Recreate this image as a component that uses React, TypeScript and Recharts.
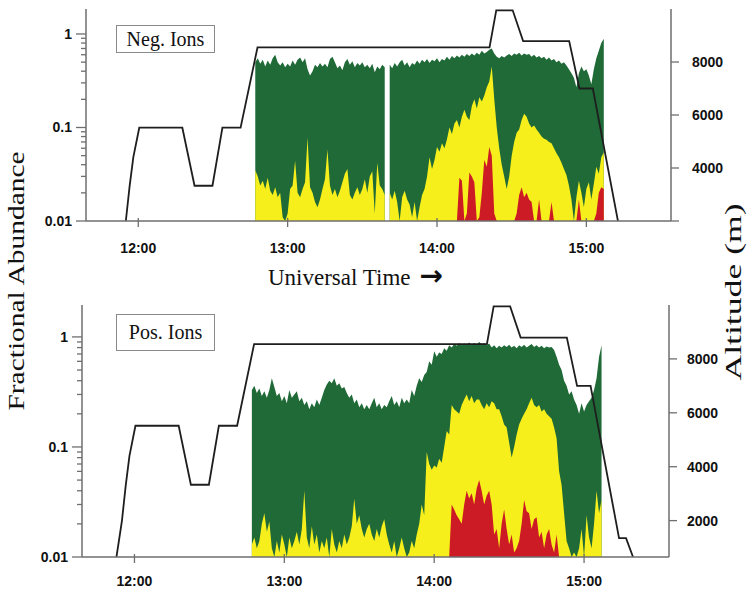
import React from "react";
import { ComposedChart, Area, Line, XAxis, YAxis } from "recharts";

// ion records start at 12:47 UT, one value per minute
const SERIES_START = 767;

// negative ions: total (green), middle class (yellow), heaviest class (red)
const negGreen = [
  0.5, 0.55, 0.48, 0.53, 0.45, 0.52, 0.47, 0.55, 0.6, 0.5,
  0.46, 0.5, 0.44, 0.48, 0.45, 0.52, 0.47, 0.53, 0.56, 0.5,
  0.55, 0.42, 0.36, 0.4, 0.47, 0.44, 0.49, 0.45, 0.48, 0.44,
  0.54, 0.57, 0.5, 0.43, 0.46, 0.41, 0.5, 0.54, 0.47, 0.51,
  0.44, 0.49, 0.46, 0.5, 0.44, 0.47, 0.43, 0.48, 0.39, 0.45,
  0.42, 0.47, 0.44, null, 0.47, 0.43, 0.49, 0.45, 0.5, 0.53,
  0.46, 0.5, 0.44, 0.49, 0.47, 0.52, 0.48, 0.53, 0.5, 0.54,
  0.49, 0.53, 0.51, 0.55, 0.5, 0.54, 0.52, 0.57, 0.53, 0.58,
  0.55, 0.59, 0.56, 0.6, 0.57, 0.61, 0.58, 0.62, 0.59, 0.63,
  0.6, 0.66, 0.62, 0.64, 0.68, 0.7, 0.62, 0.57, 0.55, 0.58,
  0.56, 0.59, 0.61, 0.58, 0.62, 0.6, 0.63, 0.59, 0.62, 0.6,
  0.61, 0.57, 0.6, 0.56, 0.58, 0.55, 0.57, 0.53, 0.56, 0.52,
  0.54, 0.5, 0.52, 0.48, 0.5, 0.46, 0.42, 0.38, 0.34, 0.27,
  0.38, 0.45, 0.4, 0.42, 0.36, 0.29, 0.42, 0.55, 0.66, 0.8,
  0.89,
];

const negYellow = [
  0.035, 0.03, 0.024, 0.027, 0.022, 0.029, 0.021, 0.019, 0.023, 0.018,
  0.02, 0.011, 0.01, 0.012, 0.022, 0.024, 0.044, 0.02, 0.018, 0.022,
  0.026, 0.078, 0.023, 0.02, 0.016, 0.014, 0.017, 0.022, 0.028, 0.058,
  0.024, 0.019, 0.022, 0.018, 0.021, 0.026, 0.032, 0.036, 0.019, 0.017,
  0.02, 0.023, 0.019, 0.022, 0.028, 0.02, 0.03, 0.034, 0.012, 0.042,
  0.024, 0.022, 0.019, null, 0.02, 0.017, 0.021, 0.016, 0.01, 0.018,
  0.021, 0.017, 0.015, 0.011, 0.016, 0.01, 0.014, 0.019, 0.022, 0.03,
  0.048, 0.036, 0.045, 0.062, 0.055, 0.068, 0.06, 0.075, 0.1, 0.085,
  0.11, 0.12, 0.1, 0.13, 0.155, 0.13, 0.12, 0.17, 0.2, 0.16,
  0.21, 0.19, 0.22, 0.27, 0.31, 0.45, 0.2, 0.1, 0.06, 0.04,
  0.03, 0.022, 0.03, 0.05, 0.07, 0.088, 0.095, 0.12, 0.14, 0.13,
  0.11, 0.1, 0.105, 0.095, 0.088, 0.08, 0.076, 0.074, 0.07, 0.068,
  0.06, 0.053, 0.048, 0.042, 0.036, 0.031, 0.024, 0.017, 0.01, 0.018,
  0.027, 0.02, 0.014, 0.022, 0.026, 0.017, 0.025, 0.038, 0.032, 0.048,
  0.054,
];

// red only shows up from 14:07 onwards
const NEG_RED_START = 847;
const negRed = [
  0.01, 0.01, 0.029, 0.027, 0.01, 0.012, 0.033, 0.03, 0.026, 0.01,
  0.011, 0.02, 0.045, 0.038, 0.062, 0.05, 0.012, 0.01, 0.01, 0.01,
  0.01, 0.01, 0.01, 0.01, 0.01, 0.012, 0.019, 0.023, 0.018, 0.02,
  0.017, 0.016, 0.01, 0.01, 0.017, 0.01, 0.01, 0.01, 0.01, 0.016,
  0.01, 0.01, 0.01, 0.01, 0.01, 0.01, 0.01, 0.01, 0.01, 0.01,
  0.017, 0.01, 0.01, 0.01, 0.01, 0.01, 0.01, 0.012, 0.02, 0.023,
  0.022,
];

// positive ions
const posGreen = [
  0.33, 0.36, 0.31, 0.34, 0.29, 0.32, 0.28, 0.33, 0.42, 0.35,
  0.29, 0.31, 0.26, 0.29, 0.25, 0.33, 0.28, 0.3, 0.32, 0.26,
  0.28, 0.24, 0.26, 0.22, 0.25, 0.23, 0.27, 0.24, 0.28, 0.33,
  0.37, 0.4, 0.38, 0.42, 0.36, 0.38, 0.34, 0.35, 0.31, 0.28,
  0.3, 0.25, 0.27, 0.23, 0.25, 0.22, 0.24, 0.22, 0.25, 0.28,
  0.23, 0.25, 0.22, 0.24, 0.23, 0.26, 0.29, 0.24, 0.26, 0.23,
  0.28, 0.25, 0.27, 0.25, 0.33, 0.29, 0.36, 0.42, 0.39, 0.45,
  0.48, 0.6, 0.56, 0.74, 0.66, 0.72, 0.7, 0.79, 0.75, 0.84,
  0.8, 0.86, 0.83, 0.88, 0.84, 0.87, 0.85, 0.89, 0.84, 0.88,
  0.85, 0.9, 0.86, 0.88, 0.84, 0.87, 0.8, 0.84, 0.79, 0.83,
  0.8, 0.84, 0.81, 0.85, 0.8, 0.83, 0.79, 0.84, 0.81, 0.85,
  0.8, 0.83, 0.86, 0.81, 0.84, 0.8, 0.83, 0.79, 0.82, 0.8,
  0.81, 0.76, 0.66, 0.56, 0.5, 0.4, 0.36, 0.3, 0.32, 0.27,
  0.24, 0.2, 0.25, 0.21, 0.24, 0.26, 0.28, 0.33, 0.42, 0.66,
  0.84,
];

const posYellow = [
  0.013, 0.015, 0.012, 0.014, 0.02, 0.025, 0.017, 0.021, 0.012, 0.01,
  0.014, 0.011, 0.016, 0.013, 0.01, 0.015, 0.012, 0.014, 0.017, 0.013,
  0.018, 0.04, 0.015, 0.012, 0.019, 0.013, 0.016, 0.011, 0.014, 0.012,
  0.015, 0.01, 0.018, 0.013, 0.011, 0.014, 0.012, 0.016, 0.013, 0.015,
  0.019, 0.034, 0.02, 0.024, 0.018, 0.015, 0.018, 0.02, 0.016, 0.014,
  0.018, 0.015, 0.019, 0.022, 0.016, 0.013, 0.011, 0.014, 0.01, 0.012,
  0.015, 0.012, 0.01, 0.011, 0.014, 0.012, 0.016, 0.02, 0.03, 0.024,
  0.09, 0.07, 0.062, 0.068, 0.065, 0.078, 0.072, 0.1, 0.14, 0.13,
  0.24, 0.22, 0.21, 0.2, 0.24, 0.27, 0.3, 0.26, 0.29, 0.25,
  0.27, 0.27, 0.24, 0.22, 0.25, 0.23, 0.26, 0.25, 0.22, 0.22,
  0.19, 0.16, 0.15, 0.11, 0.08, 0.1, 0.13, 0.16, 0.18, 0.2,
  0.22, 0.25, 0.28, 0.24, 0.23, 0.24, 0.21, 0.22, 0.2, 0.19,
  0.18, 0.15, 0.12, 0.06, 0.045, 0.025, 0.014, 0.012, 0.01, 0.011,
  0.01, 0.012, 0.018, 0.01, 0.024, 0.015, 0.012, 0.02, 0.04, 0.025,
  0.033,
];

const POS_RED_START = 846;
const posRed = [
  0.01, 0.03, 0.027, 0.024, 0.022, 0.02, 0.03, 0.04, 0.034, 0.038,
  0.03, 0.042, 0.05, 0.04, 0.03, 0.036, 0.04, 0.03, 0.016, 0.018,
  0.012, 0.02, 0.027, 0.018, 0.013, 0.016, 0.011, 0.012, 0.014, 0.02,
  0.033, 0.026, 0.025, 0.018, 0.022, 0.023, 0.015, 0.017, 0.012, 0.016,
  0.018, 0.013, 0.011, 0.016, 0.01,
];

// aircraft altitude profile (minutes UT, metres)
const altTimes = [
  712.8, 715, 716.5, 718, 720.4, 737.7, 742.6, 749.8, 753.8, 761.1, 767.9,
  861.1, 863.8, 870.4, 874.6, 893.1, 897.2, 902.6, 914, 916.8, 919.6,
];
const altMetres = [
  650, 2000, 3300, 4400, 5520, 5520, 3330, 3330, 5520, 5520, 8550,
  8550, 9950, 9950, 8790, 8790, 7000, 7000, 1350, 1350, 650,
];

const timeTicks = [720, 780, 840, 900];
const majorFractions = [0.01, 0.1, 1];
const fractionTicks = [
  0.01, 0.02, 0.03, 0.04, 0.05, 0.06, 0.07, 0.08, 0.09,
  0.1, 0.2, 0.3, 0.4, 0.5, 0.6, 0.7, 0.8, 0.9, 1,
];
const altitudeTicks = [2000, 4000, 6000, 8000];

const GREEN = "#1f6a37";
const YELLOW = "#f7ef1c";
const RED = "#cc1b25";
const AXIS_GREY = "#6e6e6e";
const TICK_FONT = "'Liberation Sans', Arial, sans-serif";
const SERIF = "'Liberation Serif', 'Times New Roman', serif";

type Row = { t: number; green: number | null; yellow: number | null; red: number | null };

const buildRows = (
  green: (number | null)[],
  yellow: (number | null)[],
  red: number[],
  redStart: number
): Row[] =>
  green.map((g, i) => {
    const t = SERIES_START + i;
    const r = t >= redStart ? red[t - redStart] : undefined;
    return { t, green: g, yellow: yellow[i], red: r ?? null };
  });

const negRows = buildRows(negGreen, negYellow, negRed, NEG_RED_START);
const posRows = buildRows(posGreen, posYellow, posRed, POS_RED_START);
const altitudeProfile = altTimes.map((t, i) => ({ t, alt: altMetres[i] }));

const fmtTime = (m: number) =>
  `${Math.floor(m / 60)}:${String(m % 60).padStart(2, "0")}`;

const FractionTick = (props: any) => {
  const { x, y, payload } = props;
  const major = majorFractions.includes(payload.value);
  return (
    <g>
      <line x1={x - (major ? 10 : 5)} x2={x} y1={y} y2={y} stroke={AXIS_GREY} strokeWidth={1.3} />
      {major && (
        <text x={x - 14} y={y} dy={5} textAnchor="end" fontFamily={TICK_FONT}
          fontWeight="bold" fontSize={14} fill="#111">
          {String(payload.value)}
        </text>
      )}
    </g>
  );
};

const AltitudeTick = (props: any) => {
  const { x, y, payload, gap, hideBottom } = props;
  const showLabel = !(hideBottom && payload.value === 2000);
  return (
    <g>
      <line x1={x} x2={x + 8} y1={y} y2={y} stroke={AXIS_GREY} strokeWidth={1.3} />
      {showLabel && (
        <text x={x + gap} y={y} dy={5} textAnchor="start" fontFamily={TICK_FONT}
          fontWeight="bold" fontSize={14} fill="#111">
          {payload.value}
        </text>
      )}
    </g>
  );
};

const TimeTick = (props: any) => {
  const { x, y, payload, labelOffset } = props;
  return (
    <g>
      <line x1={x} x2={x} y1={y - 3} y2={y + 6} stroke={AXIS_GREY} strokeWidth={1.3} />
      <text x={x} y={y + labelOffset} textAnchor="middle" fontFamily={TICK_FONT}
        fontWeight="bold" fontSize={14} fill="#111">
        {fmtTime(payload.value)}
      </text>
    </g>
  );
};

interface PanelProps {
  rows: Row[];
  top: number;
  height: number;
  marginTop: number;
  xAxisHeight: number;
  leftWidth: number;
  rightWidth: number;
  fracMax: number;
  altMin: number;
  hideBottomAlt: boolean;
  xLabelOffset: number;
  altLabelGap: number;
}

function IonPanel(p: PanelProps) {
  const axisLine = { stroke: AXIS_GREY, strokeWidth: 1.5 };
  return (
    <div style={{ position: "absolute", left: 0, top: p.top }}>
      <ComposedChart
        width={747}
        height={p.height}
        data={p.rows}
        margin={{ top: p.marginTop, right: 0, bottom: 0, left: 0 }}
      >
        <XAxis
          dataKey="t"
          type="number"
          domain={[699, 934]}
          allowDataOverflow
          ticks={timeTicks}
          interval={0}
          height={p.xAxisHeight}
          tickSize={0}
          tickMargin={0}
          tickLine={false}
          axisLine={axisLine}
          tick={(tp: any) => <TimeTick {...tp} labelOffset={p.xLabelOffset} />}
        />
        <YAxis
          yAxisId="frac"
          orientation="left"
          type="number"
          scale="log"
          domain={[0.01, p.fracMax]}
          allowDataOverflow
          ticks={fractionTicks}
          interval={0}
          width={p.leftWidth}
          tickSize={0}
          tickMargin={0}
          tickLine={false}
          axisLine={axisLine}
          tick={(tp: any) => <FractionTick {...tp} />}
        />
        <YAxis
          yAxisId="alt"
          orientation="right"
          type="number"
          domain={[p.altMin, 10000]}
          allowDataOverflow
          ticks={altitudeTicks}
          interval={0}
          width={p.rightWidth}
          tickSize={0}
          tickMargin={0}
          tickLine={false}
          axisLine={axisLine}
          tick={(tp: any) => (
            <AltitudeTick {...tp} gap={p.altLabelGap} hideBottom={p.hideBottomAlt} />
          )}
        />
        <Area yAxisId="frac" type="linear" dataKey="green" baseValue={0.01}
          stroke="none" fill={GREEN} fillOpacity={1} isAnimationActive={false} />
        <Area yAxisId="frac" type="linear" dataKey="yellow" baseValue={0.01}
          stroke="none" fill={YELLOW} fillOpacity={1} isAnimationActive={false} />
        <Area yAxisId="frac" type="linear" dataKey="red" baseValue={0.01}
          stroke="none" fill={RED} fillOpacity={1} isAnimationActive={false} />
        <Line yAxisId="alt" data={altitudeProfile} dataKey="alt" type="linear"
          stroke="#1e1e1e" strokeWidth={1.8} dot={false} activeDot={false}
          isAnimationActive={false} />
      </ComposedChart>
    </div>
  );
}

const boxStyle: React.CSSProperties = {
  position: "absolute",
  left: 116,
  width: 99,
  boxSizing: "border-box",
  border: "1px solid #8a8a8a",
  background: "#fff",
  fontFamily: SERIF,
  fontSize: 20,
  display: "flex",
  alignItems: "center",
  justifyContent: "center",
  color: "#111",
};

const rotatedLabel: React.CSSProperties = {
  position: "absolute",
  fontFamily: SERIF,
  fontSize: 23,
  lineHeight: "23px",
  whiteSpace: "nowrap",
  color: "#111",
};

export default function App() {
  return (
    <div
      style={{
        position: "absolute",
        left: 0,
        top: 0,
        width: 747,
        height: 592,
        background: "#fff",
        overflow: "hidden",
      }}
    >
      <IonPanel
        rows={negRows}
        top={0}
        height={262}
        marginTop={9}
        xAxisHeight={41}
        leftWidth={86}
        rightWidth={76}
        fracMax={1.85}
        altMin={2000}
        hideBottomAlt
        xLabelOffset={32}
        altLabelGap={21}
      />
      <IonPanel
        rows={posRows}
        top={290}
        height={302}
        marginTop={15}
        xAxisHeight={35}
        leftWidth={82}
        rightWidth={78}
        fracMax={1.95}
        altMin={650}
        hideBottomAlt={false}
        xLabelOffset={29}
        altLabelGap={18}
      />

      <div style={{ ...boxStyle, top: 25, height: 28 }}>Neg. Ions</div>
      <div style={{ ...boxStyle, top: 314, height: 37 }}>Pos. Ions</div>

      <div
        style={{
          ...rotatedLabel,
          left: 16,
          top: 281,
          transform: "translate(-50%, -50%) rotate(-90deg) scaleX(1.28)",
        }}
      >
        Fractional Abundance
      </div>
      <div
        style={{
          ...rotatedLabel,
          left: 733,
          top: 292,
          transform: "translate(-50%, -50%) rotate(-90deg) scaleX(1.55)",
        }}
      >
        Altitude (m)
      </div>
      <div
        style={{
          position: "absolute",
          left: 268,
          top: 265,
          fontFamily: SERIF,
          fontSize: 23,
          whiteSpace: "nowrap",
          color: "#111",
        }}
      >
        Universal Time
        <span
          style={{
            marginLeft: 9,
            fontFamily: "'DejaVu Sans', sans-serif",
            fontWeight: "bold",
            fontSize: 28,
            lineHeight: "20px",
          }}
        >
          →
        </span>
      </div>
    </div>
  );
}
